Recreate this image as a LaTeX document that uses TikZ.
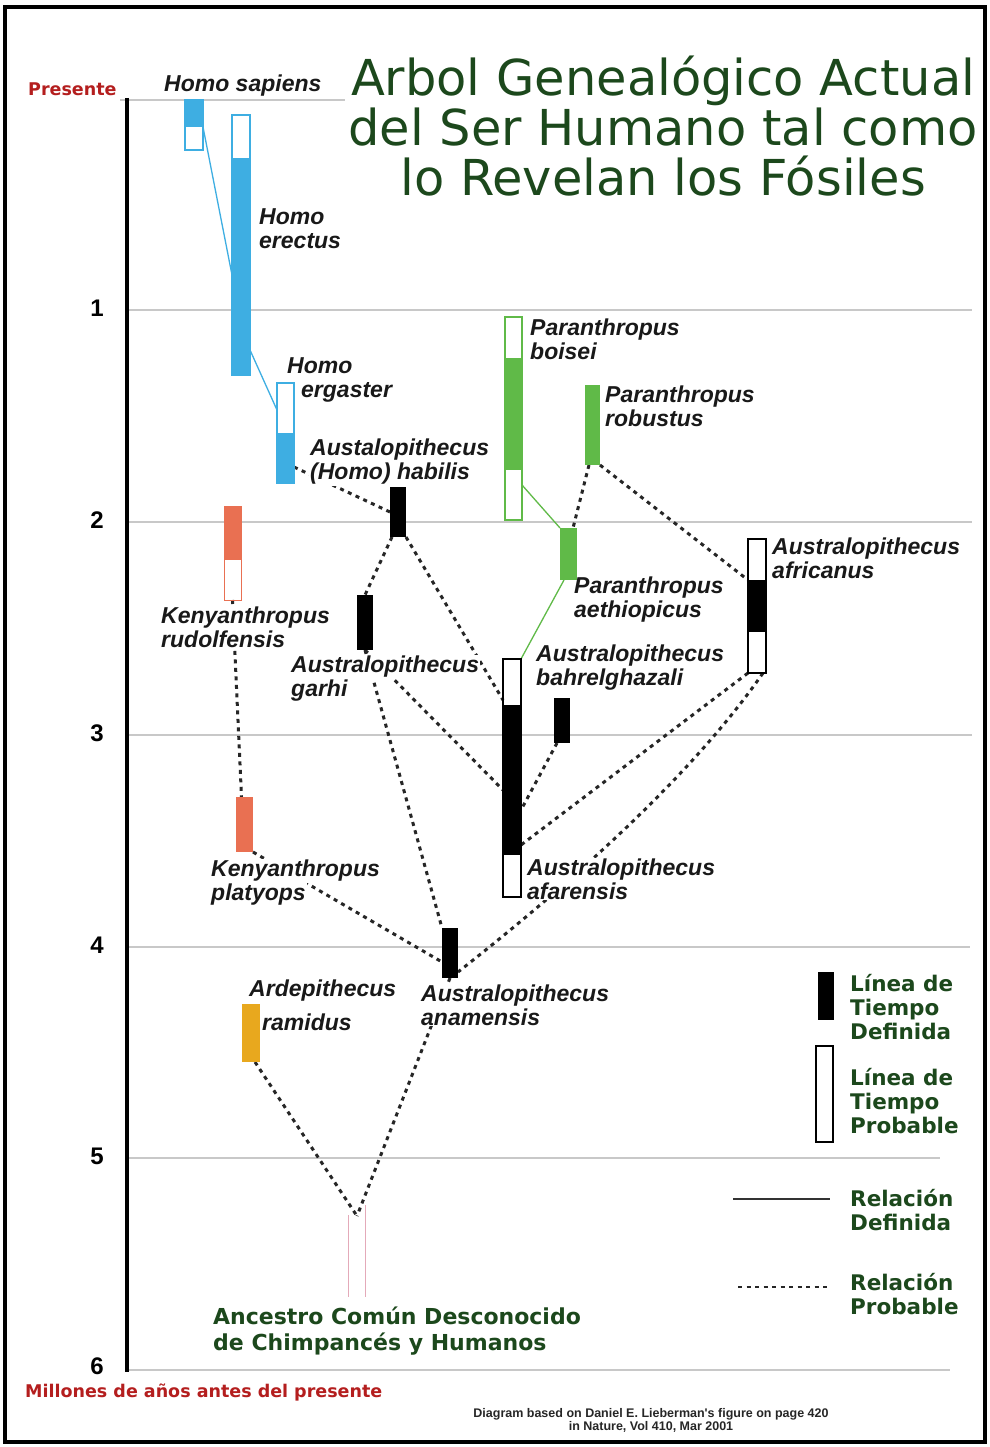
\documentclass[tikz,border=0pt]{standalone}
\usepackage{fontspec}
\setmainfont{DejaVu Sans}
\newfontfamily\spfont{Liberation Sans}
\usetikzlibrary{calc}
\pgfdeclarelayer{bg}
\pgfdeclarelayer{grid}
\pgfdeclarelayer{lines}
\pgfsetlayers{bg,grid,lines,main}
\definecolor{hblue}{RGB}{62,174,226}
\definecolor{pgreen}{RGB}{96,186,72}
\definecolor{kred}{RGB}{233,112,82}
\definecolor{ayel}{RGB}{232,168,30}
\definecolor{tgreen}{RGB}{28,72,28}
\definecolor{tred}{RGB}{180,30,30}
\definecolor{gridgray}{RGB}{200,200,200}
\definecolor{pinkc}{RGB}{228,170,185}
\tikzset{
  gridline/.style={draw=gridgray, line width=2pt},
  rel/.style={draw=black!85, line width=3pt, dash pattern=on 4pt off 4.5pt},
  defrel/.style={line width=1.3pt},
  bar/.style 2 args={rectangle, inner sep=0pt, outer sep=0pt, minimum width=#1, minimum height=#2},
  sp/.style={font={\spfont\bfseries\itshape\fontsize{23}{24}\selectfont}, align=left, anchor=west, inner sep=1pt, text=black!90},
  hide/.style={fill=white},
  leg/.style={font={\bfseries\fontsize{21.5}{24}\selectfont}, text=tgreen, align=left, anchor=west, inner sep=0pt},
  num/.style={font={\spfont\bfseries\fontsize{24}{24}\selectfont}, anchor=east, inner sep=0pt},
  redtxt/.style={font={\bfseries\fontsize{17.5}{18}\selectfont}, text=tred, anchor=west, inner sep=0pt},
}
\begin{document}
\begin{tikzpicture}[x=1pt,y=-1pt]
\useasboundingbox (0,0) rectangle (989,1447);
\begin{pgfonlayer}{bg}
\fill[white] (0,0) rectangle (989,1447);
\end{pgfonlayer}
\draw[line width=4pt] (5,7) rectangle (985,1442);

% title
\node[font={\fontsize{49.5}{50}\selectfont}, text=tgreen, align=center, anchor=north, inner sep=0pt] (title) at (663,56)
  {Arbol Genealógico Actual\\del Ser Humano tal como\\lo Revelan los Fósiles};

% axis
\draw[line width=4pt] (127,98) -- (127,1372);
\node[redtxt] (pres) at (28,89) {Presente};
\node[num] (n1) at (104,308) {1};
\node[num] (n2) at (104,520) {2};
\node[num] (n3) at (104,733) {3};
\node[num] (n4) at (104,945) {4};
\node[num] (n5) at (104,1156) {5};
\node[num] (n6) at (104,1366) {6};
\node[redtxt] (mill) at (25,1392) {Millones de años antes del presente};
\node[font={\spfont\bfseries\fontsize{12.5}{13}\selectfont}, text=black!85, align=center, inner sep=0pt] (credit) at (651,1420.5)
  {Diagram based on Daniel E. Lieberman's figure on page 420\\in Nature, Vol 410, Mar 2001};

% labels
\node[sp] (Lsap) at (163,86) {Homo sapiens};
\node[sp] (Lere) at (258,229) {Homo\\erectus};
\node[sp] (Lerg) at (286,380) {Homo\\\hspace*{14pt}ergaster};
\node[sp, hide] (Lhab) at (309,462) {Austalopithecus\\(Homo) habilis};
\node[sp, hide] (Lrud) at (160,627) {Kenyanthropus\\rudolfensis};
\node[sp, hide] (Lgar1) at (290,667) {Australopithecus};
\node[sp, hide] (Lgar2) at (290,691) {garhi};
\node[sp] (Lboi) at (529,339) {Paranthropus\\boisei};
\node[sp] (Lrob) at (604,406) {Paranthropus\\robustus};
\node[sp] (Laeth) at (573,600) {Paranthropus\\aethiopicus};
\node[sp] (Lbahr) at (535,668) {Australopithecus\\bahrelghazali};
\node[sp] (Lafr) at (771,558) {Australopithecus\\africanus};
\node[sp, hide] (Lafa) at (526,879) {Australopithecus\\afarensis};
\node[sp, hide] (Lplat1) at (210,871) {Kenyanthropus};
\node[sp, hide] (Lplat2) at (210,895) {platyops};
\node[sp] (Lram) at (248,1005) {Ardepithecus\\[10pt]\hspace*{13pt}ramidus};
\node[sp, hide] (Lana) at (420,1005) {Australopithecus\\anamensis};

% bars
\node[bar={18pt}{50pt}, draw=hblue, line width=1.5pt] (sapO) at (194,125) {};
\node[bar={18pt}{27pt}, fill=hblue] (sapF) at (194,113.5) {};
\node[bar={18pt}{260pt}, draw=hblue, line width=1.5pt] (ereO) at (241,245) {};
\node[bar={18pt}{217pt}, fill=hblue] (ereF) at (241,266.5) {};
\node[bar={17pt}{100pt}, draw=hblue, line width=1.5pt] (ergO) at (285.5,433) {};
\node[bar={17pt}{50pt}, fill=hblue] (ergF) at (285.5,458) {};
\node[bar={16pt}{50pt}, fill=black] (hab) at (398,512) {};
\node[bar={16pt}{55pt}, fill=black] (gar) at (365,622.5) {};
\node[bar={17pt}{94pt}, draw=kred, line width=1pt] (rudO) at (232.5,553) {};
\node[bar={17pt}{54pt}, fill=kred] (rudF) at (232.5,533) {};
\node[bar={17pt}{55pt}, fill=kred] (plat) at (244.5,824.5) {};
\node[bar={18pt}{58pt}, fill=ayel] (ram) at (251,1033) {};
\node[bar={16pt}{50pt}, fill=black] (ana) at (450,953) {};
\node[bar={18pt}{238pt}, draw=black, line width=1.8pt] (afaO) at (512,778) {};
\node[bar={18pt}{150pt}, fill=black] (afaF) at (512,780) {};
\node[bar={16pt}{45pt}, fill=black] (bahr) at (562,720.5) {};
\node[bar={17pt}{203pt}, draw=pgreen, line width=1.5pt] (boiO) at (513.5,418.5) {};
\node[bar={17pt}{112pt}, fill=pgreen] (boiF) at (513.5,414) {};
\node[bar={15pt}{80pt}, fill=pgreen] (rob) at (592.5,425) {};
\node[bar={17pt}{52pt}, fill=pgreen] (aeth) at (568.5,554) {};
\node[bar={18pt}{134pt}, draw=black, line width=1.8pt] (afrO) at (757,606) {};
\node[bar={18pt}{52pt}, fill=black] (afrF) at (757,606) {};
\coordinate (anc) at (357,1216);

% ancestor
\draw[pinkc, line width=1pt] (348,1215) -- (348,1297);
\draw[pinkc, line width=1pt] (365,1205) -- (365,1297);
\node[font={\bfseries\fontsize{22}{26}\selectfont}, text=tgreen, align=left, anchor=west, inner sep=0pt] (anctext) at (213,1331)
  {Ancestro Común Desconocido\\de Chimpancés y Humanos};

% legend
\node[bar={16pt}{48pt}, fill=black] (legF) at (825.5,996) {};
\node[bar={17pt}{96pt}, draw=black, line width=1.8pt] (legO) at (824.5,1094) {};
\node[leg] (l1) at (850,1007) {Línea de\\Tiempo\\Definida};
\node[leg] (l2) at (850,1101) {Línea de\\Tiempo\\Probable};
\node[leg] (l3) at (850,1210) {Relación\\Definida};
\node[leg] (l4) at (850,1294) {Relación\\Probable};
\coordinate (ls1) at (733,1199); \coordinate (ls2) at (830,1199);
\coordinate (ld1) at (738,1287); \coordinate (ld2) at (830,1287);
\draw[black!80, line width=2.2pt] (ls1) -- (ls2);
\draw[rel, line width=2.4pt] (ld1) -- (ld2);

% connectors
\begin{pgfonlayer}{lines}
\draw[hblue, defrel] (sapF.south east) -- ($(ereO.north west)+(0,160)$);
\draw[hblue, defrel] ($(ereO.north east)+(0,235)$) -- ($(ergO.north west)+(0,27)$);
\draw[pgreen, defrel] ($(boiO.south east)+(0,-35)$) -- (aeth.north west);
\draw[pgreen, defrel] ($(aeth.south west)+(4,0)$) -- (afaO.north east);
\draw[rel] ($(ergF.north east)+(0,34)$) -- (hab.west);
\draw[rel] ($(hab.south west)+(2,0)$) -- (gar.north);
\draw[rel] (hab.south east) -- ($(afaF.north west)+(0,-5)$);
\draw[rel] (gar.south) -- (ana.north west);
\draw[rel] (gar.south) -- ($(afaF.north west)+(0,85)$);
\draw[rel] ($(bahr.south west)+(3,0)$) -- ($(afaF.north east)+(0,105)$);
\draw[rel] (afrO.south west) -- ($(afaF.north east)+(0,140)$);
\draw[rel] ($(afrO.south east)+(-3,0)$) .. controls (704,758) and (603,858) .. ($(ana.south east)+(0,-6)$);
\draw[rel] (plat.south east) -- ($(ana.north west)+(0,34)$);
\draw[rel] (rudO.south) -- ($(plat.north)+(-3,0)$);
\draw[rel] ($(ram.south)+(4,0)$) -- (anc);
\draw[rel] (ana.south) -- (anc);
\draw[rel] ($(rob.south west)+(4,0)$) -- ($(aeth.north east)+(-4,0)$);
\draw[rel] (rob.south east) -- (afrF.north west);
\end{pgfonlayer}

% grid
\begin{pgfonlayer}{grid}
\draw[gridline] (120,100) -- (345,100);
\foreach \yy/\xe in {310/972, 522/972, 735/972, 947/970, 1158/940, 1370/950}
  \draw[gridline] (127,\yy) -- (\xe,\yy);
\end{pgfonlayer}
\end{tikzpicture}
\end{document}
